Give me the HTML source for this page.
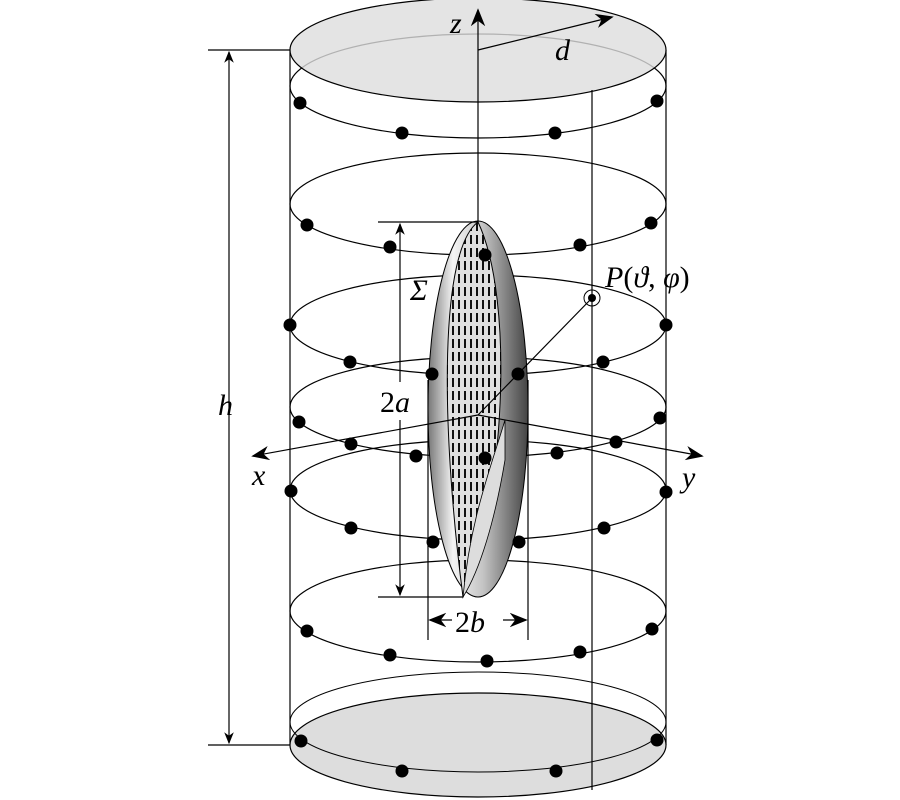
<!DOCTYPE html>
<html><head><style>body{margin:0;background:#fff}svg{display:block}</style></head><body>
<svg width="900" height="800" viewBox="0 0 900 800" xmlns="http://www.w3.org/2000/svg" font-family="Liberation Serif, serif" font-style="italic">
<defs>
<marker id="ar" viewBox="0 0 10 10" refX="9" refY="5" markerWidth="12" markerHeight="12" markerUnits="userSpaceOnUse" orient="auto-start-reverse"><path d="M0,1 L10,5 L0,9 L3,5z" fill="#000"/></marker>
<marker id="ar2" viewBox="0 0 10 10" refX="9" refY="5" markerWidth="18" markerHeight="18" markerUnits="userSpaceOnUse" orient="auto-start-reverse"><path d="M0,1 L10,5 L0,9 L3,5z" fill="#000"/></marker>
<linearGradient id="eg" x1="0" x2="1" y1="0" y2="0"><stop offset="0" stop-color="#777"/><stop offset="0.25" stop-color="#f4f4f4"/><stop offset="0.55" stop-color="#c4c4c4"/><stop offset="1" stop-color="#444"/></linearGradient>
<pattern id="hp" width="6" height="13" patternUnits="userSpaceOnUse"><rect width="6" height="13" fill="#e0e0e0"/><rect x="2" y="1" width="2" height="9" fill="#111"/></pattern>
</defs>
<g fill="none" stroke="#000" stroke-width="1.2">
<line x1="290" y1="50" x2="290" y2="745"/><line x1="666" y1="50" x2="666" y2="745"/>
<ellipse cx="478" cy="745" rx="188" ry="52" fill="#ddd"/>
<ellipse cx="478" cy="86" rx="188" ry="52"/>
<ellipse cx="478" cy="204" rx="188" ry="51"/>
<ellipse cx="478" cy="325" rx="188" ry="50"/>
<ellipse cx="478" cy="407" rx="188" ry="50"/>
<ellipse cx="478" cy="490" rx="188" ry="50"/>
<ellipse cx="478" cy="611" rx="188" ry="51"/>
<ellipse cx="478" cy="722" rx="188" ry="50" stroke-width="1"/>
<ellipse cx="478" cy="50" rx="188" ry="52" fill="#ddd" fill-opacity="0.8"/>
<line x1="592" y1="90" x2="592" y2="790"/>
<line x1="428" y1="380" x2="428" y2="640"/><line x1="528" y1="380" x2="528" y2="640"/>
</g>
<ellipse cx="478" cy="409" rx="50" ry="188" fill="url(#eg)" stroke="#000"/>
<path d="M478,222 C440,250 440,420 463,597 C505,500 515,300 478,222z" fill="url(#hp)" stroke="#000"/>
<path d="M463,597 C470,520 490,470 505,420 L505,460 C495,520 480,570 463,597z" fill="#ddd" stroke="#000" stroke-width="0.8"/>
<rect x="376" y="382" width="48" height="38" fill="#fff"/>
<g stroke="#000" stroke-width="1.2" fill="none">
<line x1="478" y1="222" x2="478" y2="10" marker-end="url(#ar2)"/>
<line x1="478" y1="50" x2="612" y2="17" marker-end="url(#ar2)"/>
<line x1="478" y1="415" x2="253" y2="456" marker-end="url(#ar2)"/>
<line x1="478" y1="415" x2="702" y2="456" marker-end="url(#ar2)"/>
<line x1="478" y1="415" x2="592" y2="298"/>
<circle cx="592" cy="298" r="8" stroke-width="1"/>
<line x1="208" y1="50" x2="290" y2="50"/><line x1="208" y1="745" x2="290" y2="745"/>
<line x1="229" y1="52" x2="229" y2="743" marker-start="url(#ar)" marker-end="url(#ar)"/>
<line x1="378" y1="222" x2="478" y2="222"/><line x1="378" y1="597" x2="463" y2="597"/>
<line x1="400" y1="224" x2="400" y2="382" marker-start="url(#ar)"/>
<line x1="400" y1="420" x2="400" y2="595" marker-end="url(#ar)"/>
<line x1="430" y1="620" x2="452" y2="620" marker-start="url(#ar2)"/>
<line x1="503" y1="620" x2="526" y2="620" marker-end="url(#ar2)"/>
</g>
<g fill="#000">
<circle cx="592" cy="298" r="4"/>
<circle cx="300" cy="103" r="6.5"/><circle cx="402" cy="133" r="6.5"/><circle cx="555" cy="133" r="6.5"/><circle cx="657" cy="101" r="6.5"/>
<circle cx="307" cy="225" r="6.5"/><circle cx="390" cy="247" r="6.5"/><circle cx="485" cy="255" r="6.5"/><circle cx="580" cy="245" r="6.5"/><circle cx="651" cy="223" r="6.5"/>
<circle cx="290" cy="325" r="6.5"/><circle cx="350" cy="362" r="6.5"/><circle cx="432" cy="374" r="6.5"/><circle cx="518" cy="374" r="6.5"/><circle cx="603" cy="362" r="6.5"/><circle cx="666" cy="325" r="6.5"/>
<circle cx="299" cy="422" r="6.5"/><circle cx="351" cy="444" r="6.5"/><circle cx="416" cy="456" r="6.5"/><circle cx="485" cy="458" r="6.5"/><circle cx="557" cy="453" r="6.5"/><circle cx="616" cy="442" r="6.5"/><circle cx="660" cy="418" r="6.5"/>
<circle cx="291" cy="491" r="6.5"/><circle cx="351" cy="528" r="6.5"/><circle cx="433" cy="542" r="6.5"/><circle cx="519" cy="542" r="6.5"/><circle cx="604" cy="528" r="6.5"/><circle cx="666" cy="492" r="6.5"/>
<circle cx="307" cy="631" r="6.5"/><circle cx="390" cy="655" r="6.5"/><circle cx="487" cy="661" r="6.5"/><circle cx="580" cy="652" r="6.5"/><circle cx="652" cy="629" r="6.5"/>
<circle cx="301" cy="741" r="6.5"/><circle cx="402" cy="771" r="6.5"/><circle cx="556" cy="771" r="6.5"/><circle cx="657" cy="740" r="6.5"/>
</g>
<g font-size="30" fill="#000">
<text x="450" y="33">z</text>
<text x="555" y="60">d</text>
<text x="218" y="415">h</text>
<text x="380" y="412" font-style="normal">2<tspan font-style="italic">a</tspan></text>
<text x="410" y="300">Σ</text>
<text x="605" y="287">P<tspan font-style="normal">(</tspan>ϑ<tspan font-style="normal">, </tspan>φ<tspan font-style="normal">)</tspan></text>
<text x="252" y="485">x</text>
<text x="682" y="487">y</text>
<text x="455" y="632" font-style="normal">2<tspan font-style="italic">b</tspan></text>
</g>
</svg>
</body></html>
